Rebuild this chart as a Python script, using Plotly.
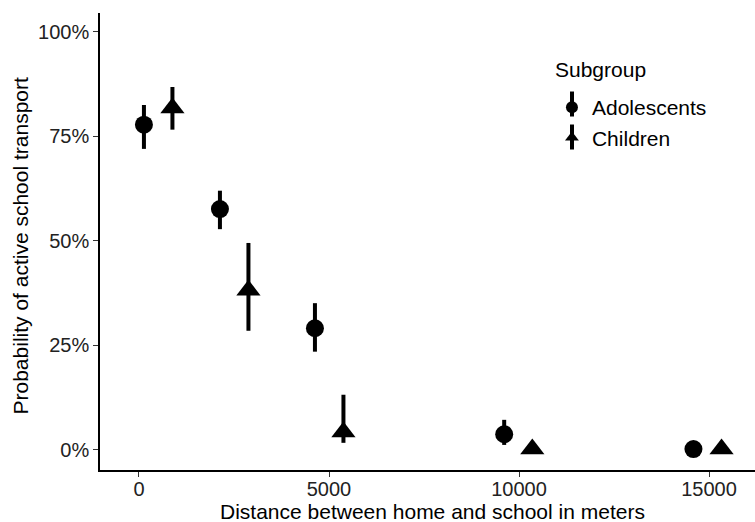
import plotly.graph_objects as go

# Data
adol_x = [130, 2130, 4630, 9610, 14590]
adol_y = [0.778, 0.576, 0.291, 0.0375, 0.002]
adol_lo = [0.720, 0.528, 0.235, 0.012, 0.0]
adol_hi = [0.825, 0.620, 0.351, 0.072, 0.004]

child_x = [880, 2880, 5380, 10350, 15330]
child_y = [0.818, 0.382, 0.043, 0.002, 0.002]
child_lo = [0.766, 0.285, 0.017, 0.0, 0.0]
child_hi = [0.868, 0.495, 0.132, 0.004, 0.004]

x_ticks = [0, 5000, 10000, 15000]
y_ticks = [0, 0.25, 0.5, 0.75, 1.0]

FONT = "Liberation Sans, Arial, sans-serif"

def err(y, lo, hi):
    return dict(type="data", symmetric=False,
                array=[h - v for v, h in zip(y, hi)],
                arrayminus=[v - l for v, l in zip(y, lo)],
                thickness=4, width=0, color="black")

fig = go.Figure()
fig.add_trace(go.Scatter(
    x=adol_x, y=adol_y, mode="markers", name="Adolescents",
    marker=dict(symbol="circle", size=18, color="black"),
    error_y=err(adol_y, adol_lo, adol_hi)))
fig.add_trace(go.Scatter(
    x=child_x, y=child_y, mode="markers", name="Children",
    marker=dict(symbol="triangle-up", size=21, color="black"),
    error_y=err(child_y, child_lo, child_hi)))

fig.update_layout(
    width=755, height=522,
    margin=dict(l=100, r=0, t=13, b=52),
    paper_bgcolor="white", plot_bgcolor="white",
    font=dict(family=FONT, color="black", size=20),
    showlegend=True,
    legend=dict(
        x=0.69, y=0.838, xanchor="left", yanchor="top",
        font=dict(size=21, color="black"),
        bgcolor="rgba(0,0,0,0)", itemsizing="constant",
        tracegroupgap=0,
    ),
    annotations=[
        dict(text="Subgroup", xref="paper", yref="paper", x=0.6915, y=0.8753,
             xanchor="left", yanchor="middle", showarrow=False,
             font=dict(size=21, color="black")),
        dict(text="Distance between home and school in meters",
             xref="paper", yref="paper", x=0.5, y=0, xanchor="center",
             yanchor="middle", xshift=5, yshift=-41, showarrow=False,
             font=dict(size=21, color="black")),
        dict(text="Probability of active school transport",
             xref="paper", yref="paper", x=0, y=0.5, xanchor="center",
             yanchor="middle", xshift=-80, yshift=-5, textangle=-90,
             showarrow=False, font=dict(size=21, color="black")),
    ],
)

# error-bar strokes through the legend glyphs
for y0, y1 in [(0.7735, 0.8282), (0.7013, 0.7560)]:
    fig.add_shape(type="line", xref="paper", yref="paper",
                  x0=0.7206, x1=0.7206, y0=y0, y1=y1,
                  line=dict(color="black", width=4))

fig.update_xaxes(
    range=[-1026, 16210], tickvals=x_ticks, ticktext=[str(v) for v in x_ticks],
    showgrid=False, zeroline=False, showline=True, linecolor="black", linewidth=1.5,
    ticks="outside", ticklen=5, tickwidth=1.2, tickcolor="#333",
    tickfont=dict(size=20, color="#222"), ticklabelstandoff=-5,
    automargin=False,
)
fig.update_yaxes(
    range=[-0.048, 1.045], tickvals=y_ticks, tickformat=".0%",
    showgrid=False, zeroline=False, showline=True, linecolor="black", linewidth=1.5,
    ticks="outside", ticklen=5, tickwidth=1.2, tickcolor="#333",
    tickfont=dict(size=20, color="#222"),
    automargin=False,
)

fig.write_html("out.html", config={"displayModeBar": False},
               post_script="document.body.style.margin='0';")
